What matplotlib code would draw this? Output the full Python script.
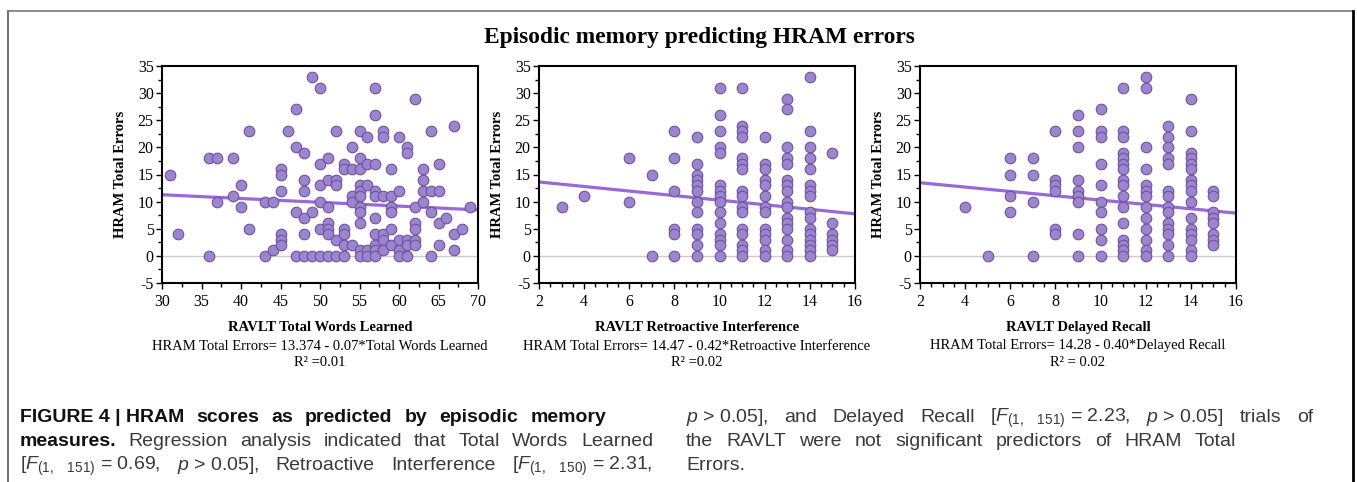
import matplotlib
matplotlib.use("Agg")
import matplotlib.pyplot as plt
from matplotlib.ticker import MultipleLocator
from matplotlib.lines import Line2D

W, H = 1357, 482

# ---- data ----
# Total words learned: x value -> HRAM total errors at that x
twl_words = [31, 32, 36, 37, 39, 40, 41, 43, 44, 45, 46, 47, 48, 49, 50, 51, 52, 53, 54, 55,
             56, 57, 58, 59, 60, 61, 62, 63, 64, 65, 66, 67, 68, 69]
twl_errors = [[15], [4], [18, 0], [18, 10], [18, 11], [13, 9], [23, 5], [10, 0], [10, 1],
              [16, 15, 12, 4, 3, 2], [23], [27, 20, 8, 0], [19, 14, 12, 7, 4, 0], [33, 8, 0],
              [31, 17, 13, 10, 5, 0], [18, 14, 9, 6, 5, 4, 0], [23, 14, 13, 3, 0],
              [17, 16, 5, 4, 2, 0], [20, 16, 11, 10, 2],
              [23, 18, 16, 13, 12, 11, 9, 8, 6, 1, 0], [22, 17, 13, 1, 0],
              [31, 26, 17, 12, 11, 7, 4, 2, 1, 0], [23, 22, 11, 4, 3, 1],
              [16, 11, 9, 8, 5, 2], [22, 12, 3, 1, 0], [20, 19, 3, 2, 0], [29, 9, 6, 5, 3, 2],
              [16, 14, 12, 10], [23, 12, 8, 0], [17, 12, 6, 2], [7], [24, 4, 1], [5], [9]]

ri_scores = [3, 4, 6, 7, 8, 9, 10, 11, 12, 13, 14, 15]
ri_errors = [[9], [11], [18, 10], [15, 0], [23, 18, 12, 5, 4, 0],
             [22, 17, 15, 14, 13, 12, 10, 8, 5, 4, 2, 0],
             [31, 26, 23, 20, 19, 13, 12, 11, 10, 8, 6, 4, 3, 2, 0],
             [31, 24, 23, 22, 18, 17, 16, 12, 11, 9, 8, 5, 4, 2, 1, 0],
             [22, 17, 16, 14, 13, 11, 9, 8, 5, 4, 3, 1, 0],
             [29, 27, 20, 18, 17, 14, 13, 12, 10, 9, 7, 6, 5, 3, 1, 0],
             [33, 23, 20, 18, 16, 13, 12, 11, 8, 7, 5, 4, 3, 2, 1, 0],
             [19, 6, 4, 3, 2, 1]]

dr_scores = [4, 5, 6, 7, 8, 9, 10, 11, 12, 13, 14, 15]
dr_errors = [[9], [0], [18, 15, 11, 8], [18, 15, 10, 0], [23, 14, 13, 12, 5, 4],
             [26, 23, 20, 14, 12, 11, 10, 4, 0],
             [27, 23, 22, 17, 13, 10, 8, 5, 3, 0],
             [31, 23, 22, 19, 18, 17, 16, 14, 13, 11, 9, 6, 3, 2, 1, 0],
             [33, 31, 20, 16, 13, 12, 11, 9, 7, 5, 3, 1, 0],
             [24, 22, 20, 18, 17, 12, 11, 9, 8, 6, 5, 4, 2, 0],
             [29, 23, 19, 18, 17, 16, 14, 13, 12, 10, 7, 5, 4, 3, 1, 0],
             [12, 11, 8, 7, 6, 4, 3, 2]]

# regression (intercept, slope) as printed
fits = [(13.374, -0.07), (14.47, -0.42), (14.28, -0.40)]
xlabels = ["RAVLT Total Words Learned", "RAVLT Retroactive Interference", "RAVLT Delayed Recall"]
equations = ["HRAM Total Errors= 13.374 - 0.07*Total Words Learned",
             "HRAM Total Errors= 14.47 - 0.42*Retroactive Interference",
             "HRAM Total Errors= 14.28 - 0.40*Delayed Recall"]
r2_labels = ["R\u00b2 =0.01", "R\u00b2 =0.02", "R\u00b2 = 0.02"]
xlims = [(30, 70), (2, 16), (2, 16)]
xsteps = [(5, 2.5), (2, 0.5), (2, 0.5)]

SERIF = "Liberation Serif"
SANS = "Liberation Sans"
DOT_FILL = "#9d84cf"
DOT_EDGE = "#6b549f"
LINE_C = "#9a68d8"

plt.rcParams["axes.unicode_minus"] = False
plt.rcParams["mathtext.fontset"] = "custom"
plt.rcParams["mathtext.rm"] = SANS
plt.rcParams["mathtext.it"] = SANS + ":italic"


def expand(xs, groups):
    px, py = [], []
    for x, g in zip(xs, groups):
        for v in g:
            px.append(x)
            py.append(v)
    return px, py


def fx(p):
    return p / W


def fy(p):
    return 1 - p / H


fig = plt.figure(figsize=(W / 100, H / 100), dpi=100)

# outer frame
fig.add_artist(Line2D([fx(8), fx(8)], [fy(11), 0], color="#555555", lw=1.2))
fig.add_artist(Line2D([fx(8), fx(1353)], [fy(11), fy(11)], color="#777777", lw=1.2))
fig.add_artist(Line2D([fx(1353), fx(1353)], [fy(11), 0], color="black", lw=2))

fig.text(fx(699), fy(37), "Episodic memory predicting HRAM errors", ha="center", va="center",
         family=SERIF, weight="bold", fontsize=16.8)

panels = [expand(twl_words, twl_errors), expand(ri_scores, ri_errors), expand(dr_scores, dr_errors)]
lefts = [162, 539, 920]
for i, (xs, ys) in enumerate(panels):
    ax = fig.add_axes([fx(lefts[i]), fy(283), 316 / W, 217 / H])
    lo, hi = xlims[i]
    ax.axhline(0, color="#cccccc", lw=1, zorder=1)
    a, b = fits[i]
    ax.plot([lo, hi], [a + b * lo, a + b * hi], color=LINE_C, lw=2.3, zorder=2)
    ax.scatter(xs, ys, s=58, c=DOT_FILL, edgecolors=DOT_EDGE, linewidths=0.8, zorder=3)
    ax.set_xlim(lo, hi)
    ax.set_ylim(-5, 35)
    ax.xaxis.set_major_locator(MultipleLocator(xsteps[i][0]))
    ax.xaxis.set_minor_locator(MultipleLocator(xsteps[i][1]))
    ax.yaxis.set_major_locator(MultipleLocator(5))
    ax.yaxis.set_minor_locator(MultipleLocator(2.5))
    ax.tick_params(which="major", length=4, width=1, labelsize=11.5)
    ax.tick_params(which="minor", length=3, width=1)
    ax.tick_params(axis="y", pad=2)
    ax.tick_params(axis="x", pad=4)
    for lab in ax.get_xticklabels() + ax.get_yticklabels():
        lab.set_family(SERIF)
    for sp in ax.spines.values():
        sp.set_linewidth(1.5)
    ax.set_xlabel(xlabels[i], family=SERIF, weight="bold", fontsize=10.5, labelpad=8)
    ax.set_ylabel("HRAM Total Errors", family=SERIF, weight="bold", fontsize=10.5, labelpad=8)
    cx = lefts[i] + 158
    fig.text(fx(cx), fy(346), equations[i], ha="center", va="center", family=SERIF, fontsize=10.5)
    fig.text(fx(cx), fy(363), r2_labels[i], ha="center", va="center", family=SERIF, fontsize=10.5)

# ---- caption, justified word by word ----
renderer = fig.canvas.get_renderer()
F151 = r"$F_{(1,\ \ \ 151)}$"
F150 = r"$F_{(1,\ \ \ 150)}$"
P = r"$p$"


def justify(tokens, x0, x1, y):
    texts = []
    for tok, bold in tokens:
        t = fig.text(0, fy(y), tok, va="center", family=SANS, fontsize=14,
                     weight="bold" if bold else "normal",
                     color="#111111" if bold else "#3a3a3a")
        texts.append(t)
    widths = [t.get_window_extent(renderer).width for t in texts]
    gap = 0 if len(texts) < 2 else (x1 - x0 - sum(widths)) / (len(texts) - 1)
    x = x0
    for t, w in zip(texts, widths):
        t.set_x(fx(x))
        x += w + gap


def words(s, bold=False):
    return [(w, bold) for w in s.split()]


justify([("FIGURE 4 | HRAM", True)] + words("scores as predicted by episodic memory", True),
        20, 606, 418)
justify([("measures.", True)] + words("Regression analysis indicated that Total Words Learned"),
        20, 653, 442)
justify([("[" + F151 + " = 0.69,", False), (P + " > 0.05],", False), ("Retroactive", False),
         ("Interference", False), ("[" + F150 + " = 2.31,", False)], 20, 652, 466)
justify([(P + " > 0.05],", False), ("and", False), ("Delayed", False), ("Recall", False),
         ("[" + F151 + " = 2.23,", False), (P + " > 0.05]", False), ("trials", False), ("of", False)],
        686, 1313, 418)
justify(words("the RAVLT were not significant predictors of HRAM Total"), 686, 1236, 442)
justify(words("Errors."), 686, 740, 466)

fig.savefig("out.png", dpi=100)
